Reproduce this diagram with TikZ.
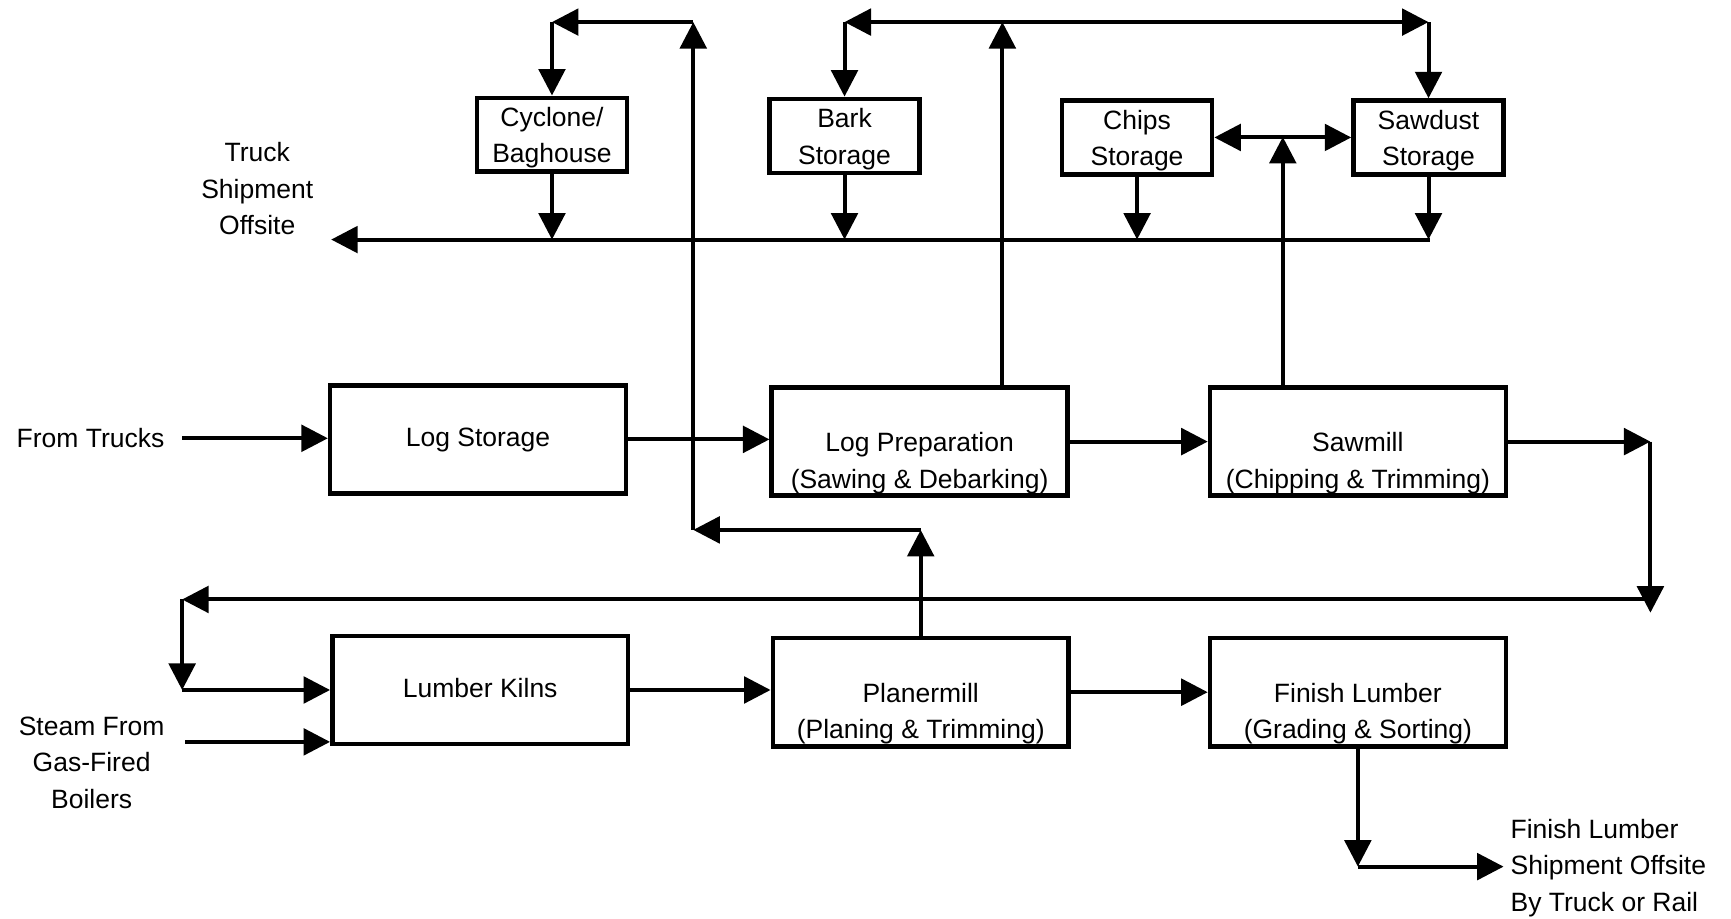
\documentclass[tikz,border=0pt]{standalone}
\usepackage{fontspec}
\setmainfont{Liberation Sans}
\usetikzlibrary{arrows.meta,calc}
\tikzset{
  lbl/.style={font=\fontsize{12}{16.5}\selectfont, align=center, inner sep=0pt},
  box/.style={draw, line width=2pt, font=\fontsize{12}{16.5}\selectfont, align=center, inner sep=0pt},
  smallbox/.style={box, minimum width=68pt, minimum height=33.5pt},
  bigbox/.style={box, minimum width=134pt, minimum height=49pt},
  ar/.style={line width=1.8pt, -{Triangle[length=12pt,width=12pt]}},
  arb/.style={line width=1.8pt, {Triangle[length=12pt,width=12pt]}-{Triangle[length=12pt,width=12pt]}}
}
\begin{document}
\begin{tikzpicture}[x=0.5pt,y=-0.5pt]
\useasboundingbox (0,0) rectangle (1568,832);
% storage boxes
\node[smallbox] (cyc) at (500,122) {\strut Cyclone/\\Baghouse};
\node[smallbox] (bark) at (765,123) {\strut Bark\\Storage};
\node[smallbox] (chips) at (1030,124.5) {\strut Chips\\Storage};
\node[smallbox] (sawd) at (1294,124.5) {\strut Sawdust\\Storage};
% main boxes
\node[bigbox] (logst) at (433,398) {\strut Log Storage};
\node[bigbox] (lprep) at (833,400) {\strut\\Log Preparation\\(Sawing \& Debarking)};
\node[bigbox] (smill) at (1230,400) {\strut\\Sawmill\\(Chipping \& Trimming)};
\node[bigbox] (kilns) at (435,625) {\strut Lumber Kilns};
\node[bigbox] (planer) at (834,627) {\strut\\Planermill\\(Planing \& Trimming)};
\node[bigbox] (finish) at (1230,627) {\strut\\Finish Lumber\\(Grading \& Sorting)};
% free labels
\node[lbl] (ftruck) at (82,397) {From Trucks};
\node[lbl] (truck) at (233,171) {Truck\\Shipment\\Offsite};
\node[lbl] (steam) at (83,691) {Steam From\\Gas-Fired\\Boilers};
\node[lbl, align=left, anchor=west] (ship) at (1368,786) {Finish Lumber\\Shipment Offsite\\By Truck or Rail};
% coordinates
\coordinate (tA) at (628,20);
\coordinate (tB) at (500,20);
\coordinate (pA) at (834,480);
\coordinate (pB) at (628,480);
\coordinate (hL) at (300,217);
\coordinate (hR) at (1295,217);
\coordinate (lpTop) at (908,20);
\coordinate (bT) at (765,20);
\coordinate (sT) at (1294,20);
\coordinate (smTop) at (1162,124);
\coordinate (rA) at (1495,400);
\coordinate (rB) at (1495,555);
\coordinate (rC) at (1495,543);
\coordinate (lA) at (165,543);
\coordinate (lB) at (165,625);
\coordinate (sS) at (168,672);
\coordinate (fA) at (1230,785);
\coordinate (fB) at (1362,785);
% connectors
\draw[ar] ([xshift=8pt]ftruck.east) -- (ftruck.east -| logst.west);
\draw[ar] (logst.east) -- (logst.east -| lprep.west);
\draw[ar] (lprep.east) -- (smill.west);
\draw[ar] (smill.east) -- (rA);
\draw[ar] (rA) -- (rB);
\draw[ar] (rC) -- (lA);
\draw[ar] (lA) -- (lB);
\draw[ar] (lB) -- (lB -| kilns.west);
\draw[ar] (sS) -- (sS -| kilns.west);
\draw[ar] (kilns.east) -- (kilns.east -| planer.west);
\draw[ar] (planer.east) -- (finish.west);
\draw[ar] (planer.north) -- (pA);
\draw[ar] (pA) -- (pB);
\draw[ar] (pB) -- (tA);
\draw[ar] (tA) -- (tB);
\draw[ar] (tB) -- (cyc.north);
\draw[ar] (cyc.south) -- (cyc.south |- hL);
\draw[ar] (bark.south) -- (bark.south |- hL);
\draw[ar] (chips.south) -- (chips.south |- hL);
\draw[ar] (sawd.south) -- (sawd.south |- hL);
\draw[ar] (hR) -- (hL);
\draw[ar] (lprep.north -| lpTop) -- (lpTop);
\draw[arb] (bT) -- (sT);
\draw[ar] (bT) -- (bark.north);
\draw[ar] (sT) -- (sawd.north);
\draw[ar] (smill.north -| smTop) -- (smTop);
\draw[arb] (chips.east) -- (sawd.west);
\draw[ar] (finish.south) -- (fA);
\draw[ar] (fA) -- (fB);
\end{tikzpicture}
\end{document}
